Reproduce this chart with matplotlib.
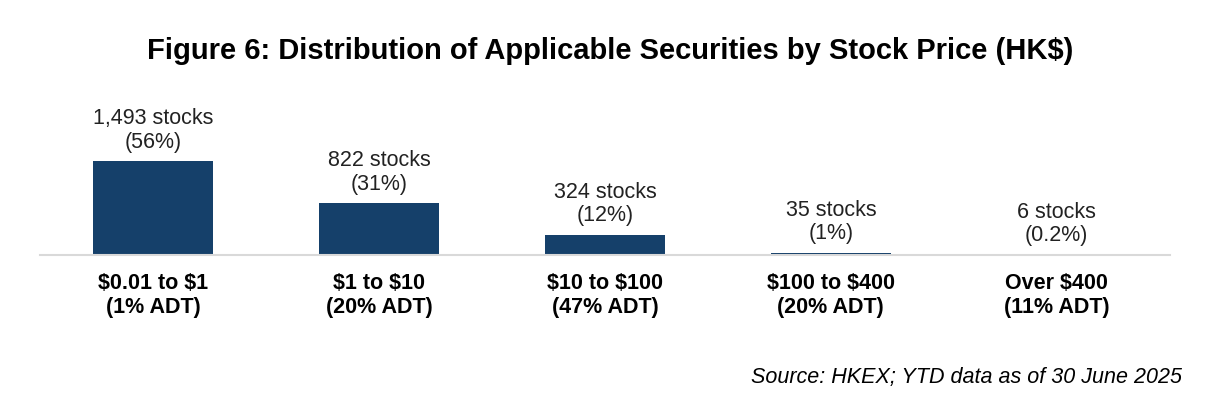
import matplotlib
matplotlib.use("Agg")
import matplotlib.pyplot as plt

plt.rcParams['font.family'] = ['Liberation Sans', 'DejaVu Sans']

# data
price_bands = ["$0.01 to $1", "$1 to $10", "$10 to $100", "$100 to $400", "Over $400"]
adt_share = ["1%", "20%", "47%", "20%", "11%"]
stock_counts = [1493, 822, 324, 35, 6]
stock_share = ["56%", "31%", "12%", "1%", "0.2%"]

bar_color = "#15406A"

fig = plt.figure(figsize=(12.2, 4.16), dpi=100)
ax = fig.add_axes([0.0328, 0.387, 0.926, 0.373])

x = range(len(price_bands))
bars = ax.bar(x, stock_counts, width=0.53, color=bar_color)

ax.set_xlim(-0.5, len(price_bands) - 0.5)
ax.set_ylim(0, 1493 * 155 / 94)

for b, n, s in zip(bars, stock_counts, stock_share):
    ax.annotate(f"{n:,} stocks\n({s})", (b.get_x() + b.get_width() / 2, b.get_height()),
                xytext=(0, 6), textcoords="offset points", ha="center", va="bottom",
                fontsize=15.5, color="#222222", linespacing=1.15)

ax.set_xticks(list(x))
labels = [f"{p}\n({a} ADT)".replace("$", r"\$") for p, a in zip(price_bands, adt_share)]
ax.set_xticklabels(labels, fontsize=15.5, fontweight="bold", linespacing=1.2)
ax.tick_params(axis="x", length=0, pad=13)
ax.set_yticks([])

for side in ["top", "right", "left"]:
    ax.spines[side].set_visible(False)
ax.spines["bottom"].set_color("#D9D9D9")
ax.spines["bottom"].set_linewidth(1.5)

fig.text(0.5, 0.878, r"Figure 6: Distribution of Applicable Securities by Stock Price (HK\$)",
         ha="center", va="center", fontsize=21, fontweight="bold")
fig.text(0.969, 0.092, "Source: HKEX; YTD data as of 30 June 2025",
         ha="right", va="center", fontsize=15.5, style="italic")

fig.savefig("out.png", dpi=100)
